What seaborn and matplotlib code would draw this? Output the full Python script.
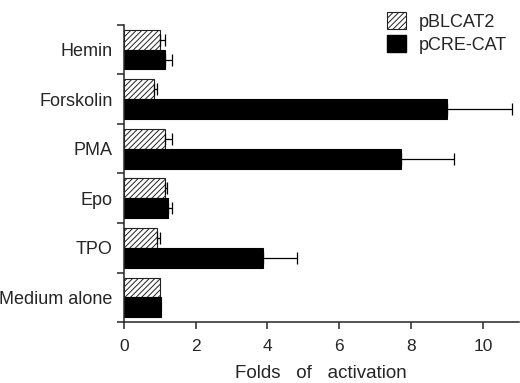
import numpy as np
import pandas as pd
import matplotlib
matplotlib.use("Agg")
import matplotlib.pyplot as plt
import seaborn as sns
from matplotlib.patches import Patch

treatments = ["Hemin", "Forskolin", "PMA", "Epo", "TPO", "Medium alone"]
constructs = ["pBLCAT2", "pCRE-CAT"]
pblcat2 = [1.0, 0.84, 1.14, 1.14, 0.92, 1.0]
pblcat2_err = [0.14, 0.08, 0.2, 0.06, 0.1, 0.0]
pcre = [1.14, 9.0, 7.72, 1.23, 3.87, 1.03]
pcre_err = [0.2, 1.8, 1.47, 0.11, 0.95, 0.0]

df = pd.DataFrame({
    "treatment": treatments * 2,
    "construct": [constructs[0]] * 6 + [constructs[1]] * 6,
    "fold": pblcat2 + pcre,
})

sns.set_style("ticks")
plt.rcParams["font.family"] = ["Liberation Sans", "DejaVu Sans"]
plt.rcParams["hatch.linewidth"] = 0.7

fig = plt.figure(figsize=(5.2, 3.83), dpi=100)
ax = fig.add_axes([0.238, 0.159, 0.76, 0.776])

sns.barplot(data=df, y="treatment", x="fold", hue="construct", order=treatments,
            hue_order=constructs, palette=["white", "black"], orient="h",
            errorbar=None, width=0.8, edgecolor="black", linewidth=0.8,
            legend=False, ax=ax)

nb = len(treatments)
bars = ax.patches[:2 * nb]
for i, p in enumerate(bars):
    if i < nb:
        p.set_hatch("//////")
        p.set_edgecolor("#222222")

# one-sided error bars
for k, (vals, errs) in enumerate([(pblcat2, pblcat2_err), (pcre, pcre_err)]):
    ys = [bars[k * nb + j].get_y() + bars[k * nb + j].get_height() / 2 for j in range(nb)]
    for j in range(nb):
        if errs[j] > 0:
            ax.errorbar(vals[j], ys[j], xerr=[[0], [errs[j]]], fmt="none",
                        ecolor="black", elinewidth=0.9, capsize=4, capthick=0.9)

ax.set_xlim(0, 11)
ax.set_ylim(nb - 0.5, -0.5)
ax.set_xticks([0, 2, 4, 6, 8, 10])
ax.tick_params(axis="x", labelsize=12.5, width=1.1, length=5, pad=7)
ax.set_yticks(np.arange(-0.5, nb, 1.0))
ax.set_yticklabels([])
ax.set_yticks(np.arange(nb), minor=True)
ax.set_yticklabels(treatments, minor=True)
ax.tick_params(axis="y", which="major", width=1.1, length=5)
ax.tick_params(axis="y", which="minor", length=0, labelsize=13, pad=8)
ax.set_ylabel("")
ax.set_xlabel("Folds   of   activation", fontsize=13.5, labelpad=8)
for s in ["left", "bottom"]:
    ax.spines[s].set_linewidth(1.1)
sns.despine(ax=ax)

handles = [Patch(facecolor="white", edgecolor="#222222", hatch="//////", linewidth=0.8),
           Patch(facecolor="black", edgecolor="black")]
fig.legend(handles, constructs, loc="upper left", bbox_to_anchor=(0.713, 1.01),
           frameon=False, fontsize=13, handlelength=1.05, handleheight=1.05,
           handletextpad=0.7, labelspacing=0.25)

fig.savefig("out.png", dpi=100)
